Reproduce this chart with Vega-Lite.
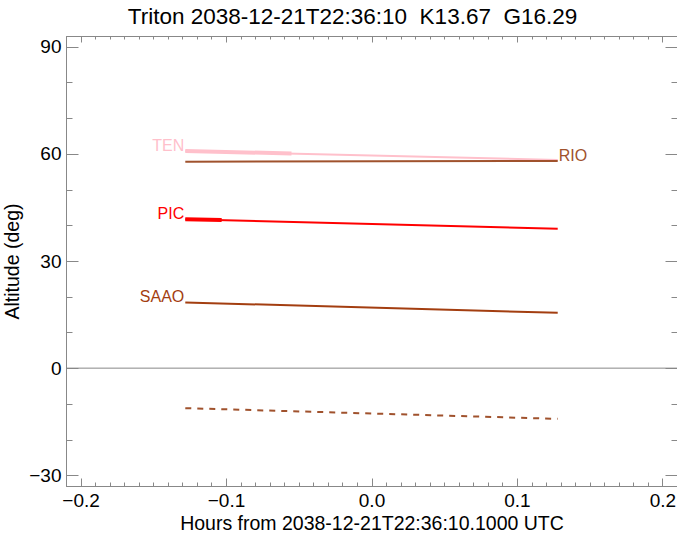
{
  "$schema": "https://vega.github.io/schema/vega-lite/v6.json",
  "width": 611,
  "height": 450,
  "autosize": {"type": "none"},
  "padding": {"left": 66, "top": 36, "right": 0, "bottom": 54},
  "title": {
    "text": "Triton 2038-12-21T22:36:10\u00a0 K13.67\u00a0 G16.29",
    "font": "Liberation Sans",
    "fontSize": 22.5,
    "fontWeight": "normal",
    "color": "#000000",
    "anchor": "middle",
    "dx": -19,
    "baseline": "alphabetic",
    "offset": -11
  },
  "config": {
    "view": {"stroke": null},
    "axis": {
      "domainColor": "#888888",
      "tickColor": "#888888",
      "grid": false,
      "labelFont": "Liberation Sans",
      "titleFont": "Liberation Sans",
      "labelColor": "#000000",
      "titleColor": "#000000",
      "labelFontSize": 19,
      "titleFontSize": 19.5,
      "titleFontWeight": "normal",
      "labelFlush": false,
      "labelOverlap": false
    }
  },
  "datasets": {
    "zero": [{"alt": 0}],
    "lines": [
      {"site": "TEN", "part": "full", "hours": -0.128, "alt": 60.8},
      {"site": "TEN", "part": "full", "hours": 0.128, "alt": 58.3},
      {"site": "TEN", "part": "thick", "hours": -0.128, "alt": 60.8},
      {"site": "TEN", "part": "thick", "hours": -0.055, "alt": 60.1},
      {"site": "RIO", "part": "full", "hours": -0.128, "alt": 57.8},
      {"site": "RIO", "part": "full", "hours": 0.128, "alt": 58.0},
      {"site": "PIC", "part": "full", "hours": -0.128, "alt": 41.7},
      {"site": "PIC", "part": "full", "hours": 0.128, "alt": 39.0},
      {"site": "PIC", "part": "thick", "hours": -0.128, "alt": 41.7},
      {"site": "PIC", "part": "thick", "hours": -0.103, "alt": 41.45},
      {"site": "SAAO", "part": "full", "hours": -0.128, "alt": 18.4},
      {"site": "SAAO", "part": "full", "hours": 0.128, "alt": 15.5},
      {"site": "RIO", "part": "dashed", "hours": -0.128, "alt": -11.2},
      {"site": "RIO", "part": "dashed", "hours": 0.128, "alt": -14.2}
    ],
    "labels": [
      {"site": "TEN", "hours": -0.128, "alt": 60.8, "at": "start"},
      {"site": "PIC", "hours": -0.128, "alt": 41.7, "at": "start"},
      {"site": "SAAO", "hours": -0.128, "alt": 18.4, "at": "start"},
      {"site": "RIO", "hours": 0.128, "alt": 58.0, "at": "end"}
    ]
  },
  "layer": [
    {
      "data": {"name": "zero"},
      "mark": {"type": "rule", "color": "#888888", "strokeWidth": 1},
      "encoding": {
        "y": {"field": "alt", "type": "quantitative", "scale": {"domain": [-33, 93], "nice": false, "zero": false}, "axis": null}
      }
    },
    {
      "data": {"name": "lines"},
      "transform": [{"filter": "datum.part === 'full'"}],
      "mark": {"type": "line", "strokeWidth": 2},
      "encoding": {
        "x": {"field": "hours", "type": "quantitative", "scale": {"domain": [-0.21, 0.21], "nice": false, "zero": false},
          "axis": {"orient": "bottom", "values": [-0.2, -0.1, 0, 0.1, 0.2], "format": ".1f", "ticks": false, "labelPadding": 5, "title": "Hours from 2038-12-21T22:36:10.1000 UTC", "titlePadding": 4}},
        "y": {"field": "alt", "type": "quantitative", "scale": {"domain": [-33, 93], "nice": false, "zero": false},
          "axis": {"orient": "left", "values": [-30, 0, 30, 60, 90], "ticks": false, "labelPadding": 5, "title": "Altitude (deg)", "titlePadding": 6}},
        "color": {"field": "site", "type": "nominal", "scale": {"domain": ["TEN", "RIO", "PIC", "SAAO"], "range": ["#FFC0CB", "#A0522D", "#FF0000", "#A33E10"]}, "legend": null}
      }
    },
    {
      "data": {"name": "lines"},
      "transform": [{"filter": "datum.part === 'thick'"}],
      "mark": {"type": "line", "strokeWidth": 4},
      "encoding": {
        "x": {"field": "hours", "type": "quantitative", "scale": {"domain": [-0.21, 0.21], "nice": false, "zero": false},
          "axis": {"orient": "bottom", "values": [-0.2, -0.1, 0, 0.1, 0.2], "labels": false, "title": null, "tickSize": -8}},
        "y": {"field": "alt", "type": "quantitative", "scale": {"domain": [-33, 93], "nice": false, "zero": false},
          "axis": {"orient": "left", "values": [-30, 0, 30, 60, 90], "labels": false, "title": null, "tickSize": -12}},
        "color": {"field": "site", "type": "nominal", "legend": null}
      }
    },
    {
      "data": {"name": "lines"},
      "transform": [{"filter": "datum.part === 'dashed'"}],
      "mark": {"type": "line", "strokeWidth": 2, "strokeDash": [6, 6]},
      "encoding": {
        "x": {"field": "hours", "type": "quantitative", "scale": {"domain": [-0.21, 0.21], "nice": false, "zero": false},
          "axis": {"orient": "bottom", "values": [-0.2, -0.19, -0.18, -0.17, -0.16, -0.15, -0.14, -0.13, -0.12, -0.11, -0.1, -0.09, -0.08, -0.07, -0.06, -0.05, -0.04, -0.03, -0.02, -0.01, 0, 0.01, 0.02, 0.03, 0.04, 0.05, 0.06, 0.07, 0.08, 0.09, 0.1, 0.11, 0.12, 0.13, 0.14, 0.15, 0.16, 0.17, 0.18, 0.19, 0.2], "labels": false, "title": null, "tickSize": -4}},
        "y": {"field": "alt", "type": "quantitative", "scale": {"domain": [-33, 93], "nice": false, "zero": false},
          "axis": {"orient": "left", "values": [-30, -20, -10, 0, 10, 20, 30, 40, 50, 60, 70, 80, 90], "labels": false, "title": null, "tickSize": -6}},
        "color": {"field": "site", "type": "nominal", "legend": null}
      }
    },
    {
      "data": {"name": "labels"},
      "transform": [{"filter": "datum.at === 'start'"}],
      "mark": {"type": "text", "align": "right", "baseline": "alphabetic", "dx": -1, "font": "Liberation Sans", "fontSize": 16},
      "encoding": {
        "x": {"field": "hours", "type": "quantitative", "scale": {"domain": [-0.21, 0.21], "nice": false, "zero": false},
          "axis": {"orient": "top", "values": [-0.2, -0.1, 0, 0.1, 0.2], "labels": false, "title": null, "tickSize": -6}},
        "y": {"field": "alt", "type": "quantitative", "scale": {"domain": [-33, 93], "nice": false, "zero": false},
          "axis": {"orient": "right", "values": [-30, 0, 30, 60, 90], "labels": false, "title": null, "tickSize": -12}},
        "text": {"field": "site"},
        "color": {"field": "site", "type": "nominal", "legend": null}
      }
    },
    {
      "data": {"name": "labels"},
      "transform": [{"filter": "datum.at === 'end'"}],
      "mark": {"type": "text", "align": "left", "baseline": "alphabetic", "dx": 1, "font": "Liberation Sans", "fontSize": 16},
      "encoding": {
        "x": {"field": "hours", "type": "quantitative", "scale": {"domain": [-0.21, 0.21], "nice": false, "zero": false},
          "axis": {"orient": "top", "values": [-0.2, -0.19, -0.18, -0.17, -0.16, -0.15, -0.14, -0.13, -0.12, -0.11, -0.1, -0.09, -0.08, -0.07, -0.06, -0.05, -0.04, -0.03, -0.02, -0.01, 0, 0.01, 0.02, 0.03, 0.04, 0.05, 0.06, 0.07, 0.08, 0.09, 0.1, 0.11, 0.12, 0.13, 0.14, 0.15, 0.16, 0.17, 0.18, 0.19, 0.2], "labels": false, "title": null, "tickSize": -3}},
        "y": {"field": "alt", "type": "quantitative", "scale": {"domain": [-33, 93], "nice": false, "zero": false},
          "axis": {"orient": "right", "values": [-30, -20, -10, 0, 10, 20, 30, 40, 50, 60, 70, 80, 90], "labels": false, "title": null, "tickSize": -6}},
        "text": {"field": "site"},
        "color": {"field": "site", "type": "nominal", "legend": null}
      }
    }
  ],
  "resolve": {"axis": {"x": "independent", "y": "independent"}}
}
